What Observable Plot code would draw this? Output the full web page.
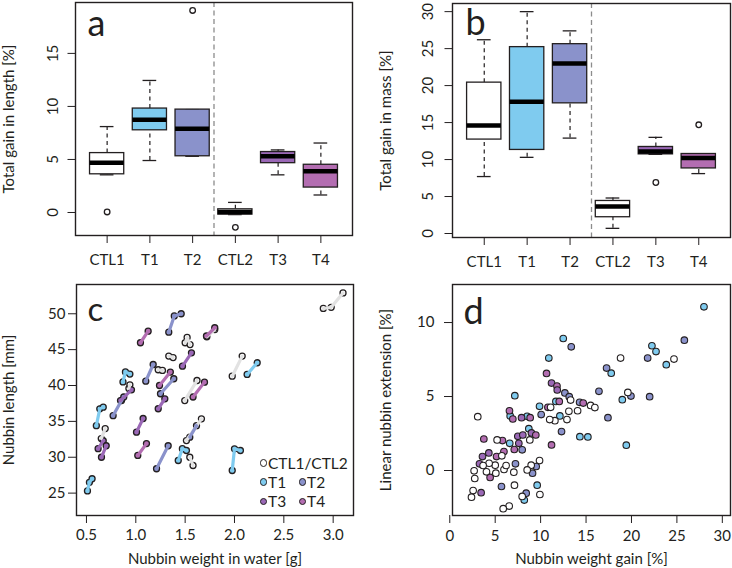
<!DOCTYPE html>
<html><head><meta charset="utf-8">
<script src="https://cdn.jsdelivr.net/npm/d3@7"></script>
<script src="https://cdn.jsdelivr.net/npm/@observablehq/plot@0.6"></script>
<style>
body{margin:0;background:#fff;}
#fig{position:relative;width:732px;height:568px;overflow:hidden;background:#fff;font-family:Lato,sans-serif;color:#231f20;}
#fig svg{position:absolute;overflow:visible;}
.li{position:absolute;font-size:15.5px;line-height:15px;white-space:nowrap;display:flex;align-items:center;}
.li span{display:inline-block;width:5.5px;height:5.5px;border:1.3px solid #231f20;border-radius:50%;margin-right:1px;}
</style></head><body><div id="fig"></div>
<script>
// ---------- data ----------
const groups = ["CTL1","T1","T2","CTL2","T3","T4"];
// panel a: total gain in length [%]
const lenLo  = [3.55, 4.9, 5.3, -0.2, 3.55, 1.65];
const lenQ1  = [3.6, 7.75, 5.3, -0.2, 4.65, 2.35];
const lenMed = [4.7, 8.75, 7.9, 0.05, 5.3, 3.9];
const lenQ3  = [5.6, 9.8, 9.7, 0.3, 5.7, 4.5];
const lenHi  = [8.1, 12.45, 9.7, 0.95, 5.9, 6.55];
const lenOutGroup = ["CTL1","T2","CTL2"];
const lenOutValue = [0.05, 19.05, -1.4];
// panel b: total gain in mass [%]
const massLo  = [7.7, 10.3, 12.9, 0.7, 10.7, 8.1];
const massQ1  = [12.7, 11.3, 17.6, 2.2, 10.7, 8.8];
const massMed = [14.6, 17.8, 23.0, 3.65, 11.1, 10.2];
const massQ3  = [20.4, 25.2, 25.6, 4.4, 11.7, 10.75];
const massHi  = [26.2, 30.0, 27.4, 4.8, 13.0, 10.75];
const massOutGroup = ["T3","T4"];
const massOutValue = [6.9, 14.7];
// panel c: nubbin trajectories (weight in water [g], length [mm])
const nubGroup = ["T1","T1","CTL","T3","T3","T1","CTL","T2","T3","T3","T4","T4","T2","CTL","T4","T2","T3","T2","CTL","T2","T3","CTL","T1","CTL","CTL","T2","CTL","T4","CTL","T4","CTL","T1","T1","CTL"];
const nubWeight = [
 [0.51,0.53,0.557],[0.60,0.635,0.67],[0.65,0.69],[0.618,0.67],[0.652,0.70],
 [0.87,0.895,0.94],[0.93,0.94],[0.77,0.855,0.878],[0.845,0.956],[1.007,1.074],
 [1.02,1.108],[1.047,1.125],[1.101,1.176],[1.227,1.27],[1.24,1.35],
 [1.25,1.385],[1.227,1.294],[1.21,1.328],[1.334,1.378],[1.334,1.39,1.46],
 [1.473,1.564],[1.50,1.52,1.55],[1.43,1.472,1.513],[1.547,1.58],[1.513,1.665],
 [1.547,1.615],[1.496,1.62],[1.58,1.696],[1.72,1.80],[1.716,1.80],
 [1.977,2.078],[2.128,2.23],[1.977,2.0,2.06],[2.90,2.98,3.10]];
const nubLength = [
 [25.3,26.5,27.0],[34.4,36.75,36.98],[32.6,34.0],[31.2,32.3],[30.0,31.6],
 [40.5,41.9,41.6],[39.6,40.1],[35.8,37.9,38.4],[37.9,39.4],[33.5,35.4],
 [30.25,31.9],[45.96,47.57],[40.6,42.93],[42.2,42.1],[40.0,41.87],
 [38.85,40.94],[36.76,38.15],[28.4,31.6],[44.1,43.9],[47.43,49.7,50.0],
 [42.7,44.56],[45.96,46.7,45.7],[29.55,31.2,30.94],[30.0,28.85],[32.33,35.36],
 [32.8,34.4],[37.9,40.7],[38.4,40.47],[46.8,47.8],[46.9,48.05],
 [41.3,44.1],[41.54,43.17],[28.15,31.18,30.94],[50.74,50.9,52.9]];
// panel d: nubbin weight gain [%] vs linear extension [%]
const dGroup = [
 ...Array(21).fill("T1"), ...Array(19).fill("T2"),
 "T4","T3","T4","T3","T4","T4","T4","T4","T4","T3","T4","T4","T3","T3","T3","T4","T3","T4","T4","T4","T4","T3","T4","T3","T3","T4","T3",
 ...Array(36).fill("CTL")];
const dGain = [
 27.98,12.49,10.9,22.25,22.7,23.83,17.77,7.16,11.68,18.99,9.88,12.12,6.65,8.51,14.32,15.2,8.7,6.6,19.43,9.62,8.2,
 13.37,25.82,21.78,17.26,16.42,12.67,13.15,19.94,22.0,14.29,10.06,17.41,12.3,7.23,9.11,9.51,5.69,8.41,7.97,
 10.65,11.2,11.8,11.83,12.05,14.69,10.8,6.57,6.94,7.9,8.85,3.75,7.49,8.04,8.99,9.47,7.6,11.2,5.8,7.1,5.96,4.3,5.15,3.6,3.27,4.44,3.45,
 3.08,18.8,24.68,19.6,15.5,15.97,14.07,13.3,13.11,12.9,11.57,11.1,11.0,5.21,8.81,5.73,9.88,8.96,8.52,7.05,5.97,6.2,5.07,5.0,4.33,4.04,3.67,2.68,2.75,2.57,2.39,7.12,7.97,9.92,6.54,5.88];
const dExt = [
 11.06,8.92,7.6,8.43,8.04,7.15,6.58,5.06,4.67,4.79,4.34,3.69,3.69,3.66,2.29,2.27,2.83,1.84,1.71,-0.99,-2.0,
 8.36,8.81,7.6,6.92,5.35,5.24,4.99,5.03,4.99,4.61,3.78,3.57,2.63,0.45,-0.18,0.27,-1.08,-1.53,1.4,
 6.56,5.91,5.71,5.44,4.67,4.56,4.27,4.04,3.48,3.57,3.57,2.13,2.31,2.4,2.54,2.4,1.84,1.73,2.02,1.42,1.28,1.19,0.94,0.94,0.45,-0.47,-1.5,
 3.64,7.6,7.53,5.28,4.4,4.25,4.04,4.76,4.0,3.44,3.37,4.27,3.44,2.07,2.07,0.99,0.67,0.36,0.04,-0.11,0.07,0.34,-0.18,0.36,0.49,-0.09,0.34,-0.02,-0.54,-1.35,-1.8,-0.99,-1.75,-1.62,-2.4,-2.58];
// colours
const colorKeys = ["CTL1","CTL2","CTL","T1","T2","T3","T4"];
const colorFill = ["#ffffff","#ffffff","#ffffff","#7fcbef","#8a92cb","#9a68b6","#b36db1"];
const ctlLine = "#e2e2e2";

// ---------- helpers ----------
const INK = "#231f20";
const FONT = "Lato, sans-serif";
const fig = document.getElementById("fig");
function place(svg, left, top){ svg.style.left = left+"px"; svg.style.top = top+"px"; fig.appendChild(svg); }
const baseStyle = {fontFamily: FONT, fontSize: "15px", color: INK, background: "none", overflow: "visible"};
const colorScale = {domain: colorKeys, range: colorFill};

function boxPanel(o){
  const data = groups.map((g,k)=>({g, i:k+1, lo:o.lo[k], q1:o.q1[k], med:o.med[k], q3:o.q3[k], hi:o.hi[k]}));
  const outs = o.outG.map((g,k)=>({g, i:groups.indexOf(g)+1, v:o.outV[k]}));
  const divider = [groups.indexOf("CTL2") + 0.5];
  const half = 0.4, cap = 0.16;
  return Plot.plot({
    width: 366, height: 284, marginLeft: o.ml, marginRight: o.mr, marginTop: o.mt, marginBottom: o.mb,
    style: baseStyle,
    x: {domain: [0.26, 6.74]},
    y: {domain: o.yDomain},
    color: colorScale,
    marks: [
      Plot.ruleX(divider, {x: d=>d, stroke: "#8c8c8c", strokeWidth: 1.3, strokeDasharray: "5,3.5"}),
      Plot.ruleX(data, {x: "i", y1: "q3", y2: "hi", stroke: INK, strokeWidth: 1.2, strokeDasharray: "4,3.5"}),
      Plot.ruleX(data, {x: "i", y1: "lo", y2: "q1", stroke: INK, strokeWidth: 1.2, strokeDasharray: "4,3.5"}),
      Plot.ruleY(data, {y: "hi", x1: d=>d.i-cap, x2: d=>d.i+cap, stroke: INK, strokeWidth: 1.3}),
      Plot.ruleY(data, {y: "lo", x1: d=>d.i-cap, x2: d=>d.i+cap, stroke: INK, strokeWidth: 1.3}),
      Plot.rect(data, {x1: d=>d.i-half, x2: d=>d.i+half, y1: "q1", y2: "q3", fill: "g", stroke: INK, strokeWidth: 1.3}),
      Plot.ruleY(data, {y: "med", x1: d=>d.i-half, x2: d=>d.i+half, stroke: "#000", strokeWidth: 4.5}),
      Plot.dot(outs, {x: "i", y: "v", r: 2.8, fill: "#fff", stroke: INK, strokeWidth: 1.3}),
      Plot.text([o.letter], {text: d=>d, frameAnchor: "top-left", textAnchor: "start", lineAnchor: "top", dx: o.ldx, dy: o.ldy, fontSize: 36, fill: INK}),
      Plot.axisX({ticks: [1,2,3,4,5,6], tickFormat: i=>groups[i-1], tickSize: 8, tickPadding: o.xpad, label: null, stroke: INK, fill: INK}),
      Plot.axisY({ticks: o.yTicks, tickSize: 7.5, tickPadding: o.ypad, tickRotate: -90, label: o.label, labelAnchor: "center", labelOffset: 72, labelArrow: "none", stroke: INK, fill: INK}),
      Plot.frame({stroke: INK, strokeWidth: 1.4})
    ]
  });
}

// ---------- panel a ----------
place(boxPanel({lo: lenLo, q1: lenQ1, med: lenMed, q3: lenQ3, hi: lenHi, outG: lenOutGroup, outV: lenOutValue,
  yDomain: [-2.17, 19.8], yTicks: [0,5,10,15], label: "Total gain in length [%]", letter: "a",
  ml: 75, mr: 14, mt: 2, mb: 49, ldx: 12, ldy: 8.4, xpad: 11, ypad: 10}), 0, 0);

// ---------- panel b ----------
place(boxPanel({lo: massLo, q1: massQ1, med: massMed, q3: massQ3, hi: massHi, outG: massOutGroup, outV: massOutValue,
  yDomain: [-0.54, 31.1], yTicks: [0,5,10,15,20,25,30], label: "Total gain in mass [%]", letter: "b",
  ml: 86, mr: 2, mt: 3, mb: 47, ldx: 13, ldy: 6.4, xpad: 11, ypad: 12}), 366, 0);

// ---------- panel c ----------
const cPts = [];
nubGroup.forEach((g,k)=>nubWeight[k].forEach((w,j)=>cPts.push({id:k, grp:g, w, l:nubLength[k][j]})));
const cCtl = cPts.filter(d=>d.grp==="CTL"), cTrt = cPts.filter(d=>d.grp!=="CTL");
place(Plot.plot({
  width: 366, height: 298, marginLeft: 76, marginRight: 13, marginTop: 14, marginBottom: 53,
  style: baseStyle,
  x: {domain: [0.399, 3.206]},
  y: {domain: [21.88, 54.08]},
  color: colorScale,
  marks: [
    Plot.dot(cPts, {x: "w", y: "l", r: 3, fill: "grp", stroke: INK, strokeWidth: 1.3}),
    Plot.line(cCtl, {x: "w", y: "l", z: "id", stroke: ctlLine, strokeWidth: 3.2, strokeLinecap: "round"}),
    Plot.line(cTrt, {x: "w", y: "l", z: "id", stroke: "grp", strokeWidth: 3.2, strokeLinecap: "round"}),
    Plot.text(["c"], {text: d=>d, frameAnchor: "top-left", textAnchor: "start", lineAnchor: "top", dx: 11, dy: 13, fontSize: 33, fill: INK}),
    Plot.axisX({ticks: [0.5,1,1.5,2,2.5,3], tickFormat: d3.format(".1f"), tickSize: 8, tickPadding: 6, label: "Nubbin weight in water [g]", labelAnchor: "center", labelOffset: 48, labelArrow: "none", stroke: INK, fill: INK}),
    Plot.axisY({ticks: [25,30,35,40,45,50], tickSize: 8, tickPadding: 3, label: "Nubbin length [mm]", labelAnchor: "center", labelOffset: 73, labelArrow: "none", stroke: INK, fill: INK}),
    Plot.frame({stroke: INK, strokeWidth: 1.4})
  ]
}), 0, 270);

// legend for panel c
const legItems = [["CTL1/CTL2","CTL",0,0],["T1","T1",0,1],["T2","T2",1,1],["T3","T3",0,2],["T4","T4",1,2]];
legItems.forEach(([txt,key,col,row])=>{
  const div = document.createElement("div");
  div.className = "li";
  div.style.left = (259.5 + col*39) + "px";
  div.style.top = (455.5 + row*19.2) + "px";
  const sw = document.createElement("span");
  sw.style.background = colorFill[colorKeys.indexOf(key)];
  div.appendChild(sw);
  div.appendChild(document.createTextNode(txt));
  fig.appendChild(div);
});

// ---------- panel d ----------
const dPts = dGroup.map((g,k)=>({grp:g, x:dGain[k], y:dExt[k]}));
place(Plot.plot({
  width: 366, height: 298, marginLeft: 86, marginRight: 2, marginTop: 14, marginBottom: 53,
  style: baseStyle,
  x: {domain: [0.3, 30.9]},
  y: {domain: [-3.04, 12.57]},
  color: colorScale,
  marks: [
    Plot.dot(dPts, {x: "x", y: "y", r: 3.3, fill: "grp", stroke: INK, strokeWidth: 1.1}),
    Plot.text(["d"], {text: d=>d, frameAnchor: "top-left", textAnchor: "start", lineAnchor: "top", dx: 11, dy: 14, fontSize: 36, fill: INK}),
    Plot.axisX({ticks: [0,5,10,15,20,25,30], tickSize: 8, tickPadding: 7, label: "Nubbin weight gain [%]", labelAnchor: "center", labelOffset: 48, labelArrow: "none", stroke: INK, fill: INK}),
    Plot.axisY({ticks: [0,5,10], tickSize: 8, tickPadding: 10, label: "Linear nubbin extension [%]", labelAnchor: "center", labelOffset: 72, labelArrow: "none", stroke: INK, fill: INK}),
    Plot.frame({stroke: INK, strokeWidth: 1.4})
  ]
}), 366, 270);
</script></body></html>
